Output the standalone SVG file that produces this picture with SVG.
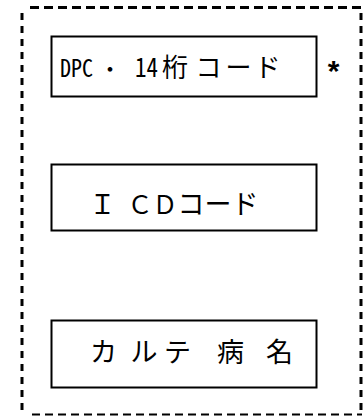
<svg xmlns="http://www.w3.org/2000/svg" width="364" height="416" viewBox="0 0 364 416">
<style>
.box{fill:#fff;stroke:#000;stroke-width:2}
.bd{fill:none;stroke:#000}
.t{font-family:"Noto Sans CJK JP","Noto Sans",sans-serif;fill:#000}
.m{font-family:"Noto Sans Mono CJK JP","Noto Sans CJK JP",monospace;fill:#000}
.a{font-family:"Liberation Sans",sans-serif;fill:#000}
</style>
<rect width="364" height="416" fill="#fff"/>
<g id="frame">
<path class="bd" d="M30 7.5H362" stroke-width="3" stroke-dasharray="9 5"/>
<path class="bd" d="M22 13V416" stroke-width="3" stroke-dasharray="7 6"/>
<path class="bd" d="M361 13V416" stroke-width="3" stroke-dasharray="7 6"/>
<path class="bd" d="M32 414.5H362" stroke-width="2" stroke-dasharray="8 5"/>
</g>
<g id="node-dpc">
<rect class="box" x="51.5" y="36.5" width="265" height="60"/>
<text class="m" y="77" font-size="26"><tspan x="60" font-size="24" textLength="33" lengthAdjust="spacingAndGlyphs">DPC</tspan><tspan x="110" text-anchor="middle" font-size="22">・</tspan><tspan x="135" textLength="23" lengthAdjust="spacingAndGlyphs">14</tspan><tspan x="175" text-anchor="middle">桁</tspan><tspan x="208.5" text-anchor="middle">コ</tspan><tspan x="238.5" text-anchor="middle">ー</tspan><tspan x="267.5" text-anchor="middle">ド</tspan></text>
</g>
<g id="note">
<text class="a" x="333.5" y="81" font-size="30" font-weight="bold" text-anchor="middle">*</text>
</g>
<g id="node-icd">
<rect class="box" x="51.5" y="164.5" width="265" height="66"/>
<text class="t" y="214" font-size="27"><tspan x="102.5" text-anchor="middle">Ｉ</tspan><tspan x="127.5" font-size="25">ＣＤ</tspan><tspan x="177.5">コード</tspan></text>
</g>
<g id="node-karte">
<rect class="box" x="51.5" y="320.5" width="265" height="67"/>
<text class="t" y="362" font-size="27" text-anchor="middle"><tspan x="103.5">カ</tspan><tspan x="144">ル</tspan><tspan x="177.5">テ</tspan><tspan x="230.5">病</tspan><tspan x="279.5">名</tspan></text>
</g>
<g id="connectors"></g>
</svg>
